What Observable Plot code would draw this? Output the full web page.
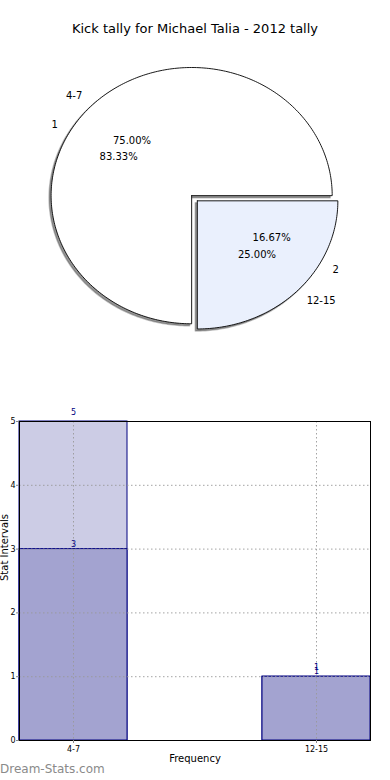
<!DOCTYPE html>
<html><head><meta charset="utf-8">
<script src="https://cdn.jsdelivr.net/npm/d3@7"></script>
<script src="https://cdn.jsdelivr.net/npm/@observablehq/plot@0.6"></script>
<style>
body{margin:0;background:#fff;font-family:"DejaVu Sans",sans-serif;}
#wrap{position:relative;width:390px;height:780px;overflow:hidden;background:#fff;}
#title{position:absolute;top:21px;left:0;width:390px;text-align:center;font-size:13px;color:#000;}
#pie{position:absolute;top:0;left:0;}
#bar{position:absolute;top:400px;left:0;}
#wm{position:absolute;left:0;top:762px;font-size:12px;color:#8a8a8a;}
</style></head>
<body><div id="wrap"><div id="pie"></div><div id="bar"></div><div id="title"></div><div id="wm"></div></div>
<script>
// ---- data ----
const chartTitle = "Kick tally for Michael Talia - 2012 tally";
const watermark = "Dream-Stats.com";
const pieLabelsA = ["4-7", "12-15"];
const pieValuesA = [3, 1];
const pieLabelsB = ["1", "2"];
const pieValuesB = [5, 1];
const pieColors = ["#ffffff", "#eaf0fd"];
const pieExplode = [0, 0.057];
const categories = ["4-7", "12-15"];
const seriesTotal = [5, 1];
const seriesKicks = [3, 1];
const yTicks = [0, 1, 2, 3, 4, 5];
const xAxisTitle = "Frequency";
const yAxisTitle = "Stat Intervals";

document.getElementById("title").textContent = chartTitle;
document.getElementById("wm").textContent = watermark;

// ---- pie geometry from values ----
function wedges(values, explode) {
  const sum = d3.sum(values);
  let acc = 0;
  return values.map((v, i) => {
    const a0 = acc / sum * 360, a1 = (acc + v) / sum * 360;
    acc += v;
    const mid = (a0 + a1) / 2 * Math.PI / 180;
    const cx = explode[i] * Math.cos(mid), cy = explode[i] * Math.sin(mid);
    return {i, v, pct: (v / sum * 100).toFixed(2) + "%", a0, a1, mid, cx, cy};
  });
}
const wA = wedges(pieValuesA, pieExplode);
const wB = wedges(pieValuesB, pieExplode);

function wedgePoints(w) {
  const pts = [{x: w.cx, y: w.cy}];
  const n = Math.max(2, Math.ceil(w.a1 - w.a0));
  for (let k = 0; k <= n; k++) {
    const a = (w.a0 + (w.a1 - w.a0) * k / n) * Math.PI / 180;
    pts.push({x: w.cx + Math.cos(a), y: w.cy + Math.sin(a)});
  }
  pts.push({x: w.cx, y: w.cy});
  return pts;
}

const pieMarks = [];
wA.forEach(w => {
  const pts = wedgePoints(w);
  pieMarks.push(Plot.line(pts, {x: "x", y: "y", fill: "#4d4d4d", fillOpacity: 0.6, stroke: "#4d4d4d", strokeOpacity: 0.35, strokeWidth: 1.5, dx: -2, dy: 2}));
  pieMarks.push(Plot.line(pts, {x: "x", y: "y", fill: pieColors[w.i], stroke: "#000", strokeWidth: 0.9, strokeLinejoin: "miter"}));
});
function labelData(ws, labels) {
  return ws.map(w => ({
    lx: w.cx + 1.1 * Math.cos(w.mid), ly: w.cy + 1.1 * Math.sin(w.mid),
    px: w.cx + 0.6 * Math.cos(w.mid), py: w.cy + 0.6 * Math.sin(w.mid),
    label: labels[w.i], pct: w.pct, right: Math.cos(w.mid) > 0
  }));
}
const labs = [...labelData(wA, pieLabelsA), ...labelData(wB, pieLabelsB)];
pieMarks.push(Plot.text(labs.filter(d => d.right), {x: "lx", y: "ly", text: "label", textAnchor: "start", fontSize: 10, fill: "#000"}));
pieMarks.push(Plot.text(labs.filter(d => !d.right), {x: "lx", y: "ly", text: "label", textAnchor: "end", fontSize: 10, fill: "#000"}));
pieMarks.push(Plot.text(labs, {x: "px", y: "py", text: "pct", fontSize: 10, fill: "#000"}));

const pie = Plot.plot({
  width: 390, height: 370, margin: 0,
  style: {fontFamily: "DejaVu Sans", background: "transparent"},
  x: {domain: [-1, 1], range: [50.6, 331.7], axis: null},
  y: {domain: [-1, 1], range: [323.3, 67], axis: null},
  marks: pieMarks
});
document.getElementById("pie").appendChild(pie);

// ---- bar chart ----
const rows = categories.map((c, i) => ({cat: c, total: seriesTotal[i], kicks: seriesKicks[i]}));
const bar = Plot.plot({
  width: 390, height: 380,
  marginLeft: 19, marginRight: 20, marginTop: 21, marginBottom: 40,
  style: {fontFamily: "DejaVu Sans", fontSize: "8px", background: "transparent", color: "#000"},
  x: {domain: categories, paddingInner: 0.556, paddingOuter: 0, label: null},
  y: {domain: [0, 5], label: null},
  marks: [
    Plot.barY(rows, {x: "cat", y: "total", fill: "#ccccE5", stroke: "#000080", strokeWidth: 1, inset: 0}),
    Plot.barY(rows, {x: "cat", y: "kicks", fill: "#a3a3d0", stroke: "#000080", strokeWidth: 1, inset: 0}),
    Plot.gridY(yTicks, {stroke: "#999", strokeOpacity: 0.9, strokeDasharray: "1.5,2.5"}),
    Plot.gridX({stroke: "#999", strokeOpacity: 0.9, strokeDasharray: "1.5,2.5"}),
    Plot.frame({stroke: "#000", strokeWidth: 1}),
    Plot.axisY(yTicks, {tickSize: 3, tickPadding: 1, fontSize: 8, label: null, stroke: "#888", tickFormat: d => String(d)}),
    Plot.axisX({tickSize: 3, tickPadding: 3, fontSize: 8, label: null, stroke: "#888"}),
    Plot.text(rows, {x: "cat", y: "total", text: d => String(d.total), dy: -9, fill: "#000080", fontSize: 8}),
    Plot.text(rows, {x: "cat", y: "kicks", text: d => String(d.kicks), dy: -5, fill: "#000080", fontSize: 8}),
    Plot.text([xAxisTitle], {frameAnchor: "bottom", text: d => d, dy: 21, fontSize: 10, fill: "#000"}),
    Plot.text([yAxisTitle], {frameAnchor: "left", text: d => d, rotate: -90, dx: -15, fontSize: 10, fill: "#000"})
  ]
});
document.getElementById("bar").appendChild(bar);
</script>
</body></html>
